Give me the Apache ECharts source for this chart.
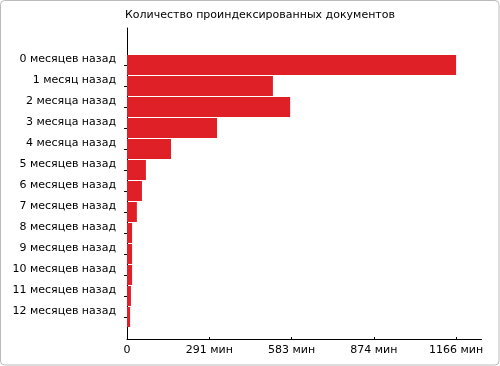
<!DOCTYPE html>
<html>
<head>
<meta charset="utf-8">
<script src="https://cdn.jsdelivr.net/npm/echarts@6/dist/echarts.min.js"></script>
<style>html,body{margin:0;padding:0;background:#fff}#c{width:500px;height:366px}</style>
</head>
<body>
<div id="c"></div>
<script>
const titleText = 'Количество проиндексированных документов';
const categories = ['0 месяцев назад','1 месяц назад','2 месяца назад','3 месяца назад','4 месяца назад','5 месяцев назад','6 месяцев назад','7 месяцев назад','8 месяцев назад','9 месяцев назад','10 месяцев назад','11 месяцев назад','12 месяцев назад'];
const values = [1166, 517, 578, 319, 156, 67, 53, 35, 18, 18, 18, 14, 11];
const xMax = 1256;
const xInterval = 291.5;
const unit = ' мин';

const font = 'DejaVu Sans';
const chart = echarts.init(document.getElementById('c'), null, {renderer: 'canvas'});
chart.setOption({
  animation: false,
  textStyle: {fontFamily: font},
  graphic: [{
    type: 'rect', silent: true,
    shape: {x: 0.5, y: 0.5, width: 498.5, height: 364.5, r: 4},
    style: {fill: 'none', stroke: '#bbbbbb', lineWidth: 1}
  }],
  title: {
    text: titleText, left: 125, top: 10, padding: 0,
    textStyle: {fontFamily: font, fontSize: 11, fontWeight: 'normal', color: '#000'}
  },
  grid: [
    {left: 127, right: 18.5, top: 54.5, bottom: 38.5, containLabel: false},
    {left: 127, right: 18.5, top: 28, bottom: 27, containLabel: false}
  ],
  xAxis: [
    {gridIndex: 0, type: 'value', min: 0, max: xMax, show: false, splitLine: {show: false}},
    {gridIndex: 1, type: 'value', min: 0, max: xMax, interval: xInterval,
     axisLine: {show: true, lineStyle: {color: '#000', width: 1}},
     axisTick: {show: true, inside: true, length: 2, lineStyle: {color: '#000'}},
     splitLine: {show: false},
     axisLabel: {show: true, margin: 6, fontSize: 11, color: '#000', fontFamily: font, showMaxLabel: false,
       formatter: v => v === 0 ? '0' : Math.floor(v) + unit}}
  ],
  yAxis: [
    {gridIndex: 0, type: 'category', data: categories, inverse: true,
     axisLine: {show: false},
     axisTick: {show: true, length: 3, alignWithLabel: true, lineStyle: {color: '#000'}},
     axisLabel: {show: true, margin: 11, fontSize: 11, color: '#000', fontFamily: font, verticalAlign: 'bottom'}},
    {gridIndex: 1, type: 'category', data: [''],
     axisLine: {show: true, lineStyle: {color: '#000', width: 1}},
     axisTick: {show: false}, axisLabel: {show: false}, splitLine: {show: false}}
  ],
  series: [{
    type: 'bar', xAxisIndex: 0, yAxisIndex: 0, data: values,
    barWidth: 20, itemStyle: {color: '#df2027'}
  }]
});
</script>
</body>
</html>
